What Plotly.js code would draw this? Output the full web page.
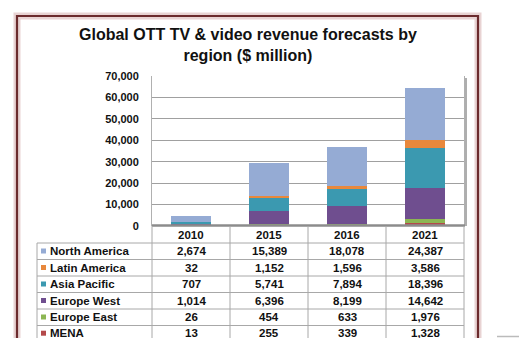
<!DOCTYPE html>
<html>
<head>
<meta charset="utf-8">
<script src="https://cdn.plot.ly/plotly-3.0.1.min.js"></script>
<style>html,body{margin:0;padding:0;background:#fff;}#chart{width:519px;height:338px;}</style>
</head>
<body>
<div id="chart"></div>
<script>
const titleText = 'Global OTT TV & video revenue forecasts by<br>region ($ million)';
const years = ['2010', '2015', '2016', '2021'];
const seriesNames = ['North America', 'Latin America', 'Asia Pacific', 'Europe West', 'Europe East', 'MENA'];
const northAmerica = [2674, 15389, 18078, 24387];
const latinAmerica = [32, 1152, 1596, 3586];
const asiaPacific = [707, 5741, 7894, 18396];
const europeWest = [1014, 6396, 8199, 14642];
const europeEast = [26, 454, 633, 1976];
const mena = [13, 255, 339, 1328];
const seriesColors = ['#95abd4', '#e8883c', '#3b99b0', '#6f4e8f', '#8cb653', '#b4494a'];
const yTicks = [0, 10000, 20000, 30000, 40000, 50000, 60000, 70000];

const seriesValues = [northAmerica, latinAmerica, asiaPacific, europeWest, europeEast, mena];

// geometry (pixels)
const W = 519, H = 338;
const L = 152, R = 464, T = 76, B = 226;
const pw = R - L, ph = B - T;
const px = x => (x - L) / pw;
const py = y => (B - y) / ph;

// stack order: bottom is MENA
const traces = [];
for (let i = seriesNames.length - 1; i >= 0; i--) {
  traces.push({
    type: 'bar', x: years, y: seriesValues[i], name: seriesNames[i],
    marker: {color: seriesColors[i], line: {width: 0}},
    hoverinfo: 'x+y+name'
  });
}

const shapes = [];
const annotations = [];
const fam = 'Liberation Sans, Arial, sans-serif';
const font = {family: fam, size: 11.5, color: '#111'};

// title
annotations.push({xref: 'paper', yref: 'paper', x: px(248), y: py(45), text: '<b>' + titleText + '</b>',
  showarrow: false, xanchor: 'center', yanchor: 'middle', align: 'center',
  font: {family: fam, size: 16, color: '#111'}});

// outer frame with shadow
shapes.push({type: 'rect', xref: 'paper', yref: 'paper', x0: px(17), x1: px(478), y0: py(400), y1: py(16),
  line: {color: 'rgba(190,130,130,0.35)', width: 7}, fillcolor: 'rgba(0,0,0,0)', layer: 'below'});
shapes.push({type: 'rect', xref: 'paper', yref: 'paper', x0: px(17), x1: px(478), y0: py(400), y1: py(16),
  line: {color: '#6b2b2d', width: 2.2}, fillcolor: 'rgba(0,0,0,0)', layer: 'above'});

// plot area shadow on the right
shapes.push({type: 'rect', xref: 'paper', yref: 'paper', x0: px(464), x1: px(467), y0: py(226), y1: py(78),
  line: {width: 0}, fillcolor: 'rgba(120,120,120,0.6)', layer: 'below'});
// floor
shapes.push({type: 'line', xref: 'paper', yref: 'paper', x0: px(152), x1: px(465), y0: py(225.5), y1: py(225.5),
  line: {color: '#8c8c8c', width: 2.5}});

// table
const rowLines = [243, 259.5, 276, 292.5, 309, 325.5];
const rowCenters = [251, 267.5, 284, 300.5, 317, 333.2];
const gridColor = '#a8a8a8';
shapes.push({type: 'line', xref: 'paper', yref: 'paper', x0: px(152), x1: px(464), y0: py(226.5), y1: py(226.5), line: {color: gridColor, width: 1}});
rowLines.forEach(y => shapes.push({type: 'line', xref: 'paper', yref: 'paper', x0: px(37), x1: px(464), y0: py(y), y1: py(y), line: {color: gridColor, width: 1}}));
[152, 230, 308, 386, 464].forEach(x => shapes.push({type: 'line', xref: 'paper', yref: 'paper', x0: px(x), x1: px(x), y0: py(226), y1: py(345), line: {color: gridColor, width: 1}}));
shapes.push({type: 'line', xref: 'paper', yref: 'paper', x0: px(37), x1: px(37), y0: py(243), y1: py(345), line: {color: gridColor, width: 1}});

// header years (x = category index on the x axis)
years.forEach((yr, j) => annotations.push({xref: 'x', yref: 'paper', x: j, y: py(234.5), text: '<b>' + yr + '</b>',
  showarrow: false, font: font, xanchor: 'center', yanchor: 'middle'}));

seriesNames.forEach((name, i) => {
  const yc = rowCenters[i];
  shapes.push({type: 'rect', xref: 'paper', yref: 'paper', x0: px(41), x1: px(46), y0: py(yc + 2.5), y1: py(yc - 2.5),
    line: {width: 0}, fillcolor: seriesColors[i]});
  annotations.push({xref: 'paper', yref: 'paper', x: px(48), y: py(yc), text: '<b>' + name + '</b>',
    showarrow: false, font: font, xanchor: 'left', yanchor: 'middle'});
  seriesValues[i].forEach((v, j) => annotations.push({xref: 'x', yref: 'paper', x: j, y: py(yc),
    text: '<b>' + v.toLocaleString('en-US') + '</b>', showarrow: false, font: font, xanchor: 'center', yanchor: 'middle'}));
});

// small grey mark bottom right
shapes.push({type: 'line', xref: 'paper', yref: 'paper', x0: px(497), x1: px(519), y0: py(336.5), y1: py(336.5), line: {color: '#bbbbbb', width: 1.5}});

const layout = {
  width: W, height: H,
  margin: {l: L, r: W - R, t: T, b: H - B, pad: 0},
  paper_bgcolor: '#ffffff', plot_bgcolor: '#ffffff',
  barmode: 'stack', bargap: 0.49,
  showlegend: false,
  xaxis: {type: 'category', range: [-0.5, 3.5], showticklabels: false, showgrid: false, zeroline: false,
    showline: false, ticks: ''},
  yaxis: {range: [0, 70000], tickvals: yTicks, tickformat: ',d', showgrid: true, gridcolor: '#a0a0a0', gridwidth: 1,
    zeroline: false, showline: true, linecolor: '#b0b0b0', linewidth: 1, mirror: true, ticks: '', ticklen: 0,
    ticklabelstandoff: 10,
    tickfont: {family: fam, size: 11, color: '#111', weight: 'bold'}},
  shapes: shapes,
  annotations: annotations
};

Plotly.newPlot('chart', traces, layout, {staticPlot: true, displayModeBar: false});
</script>
</body>
</html>
